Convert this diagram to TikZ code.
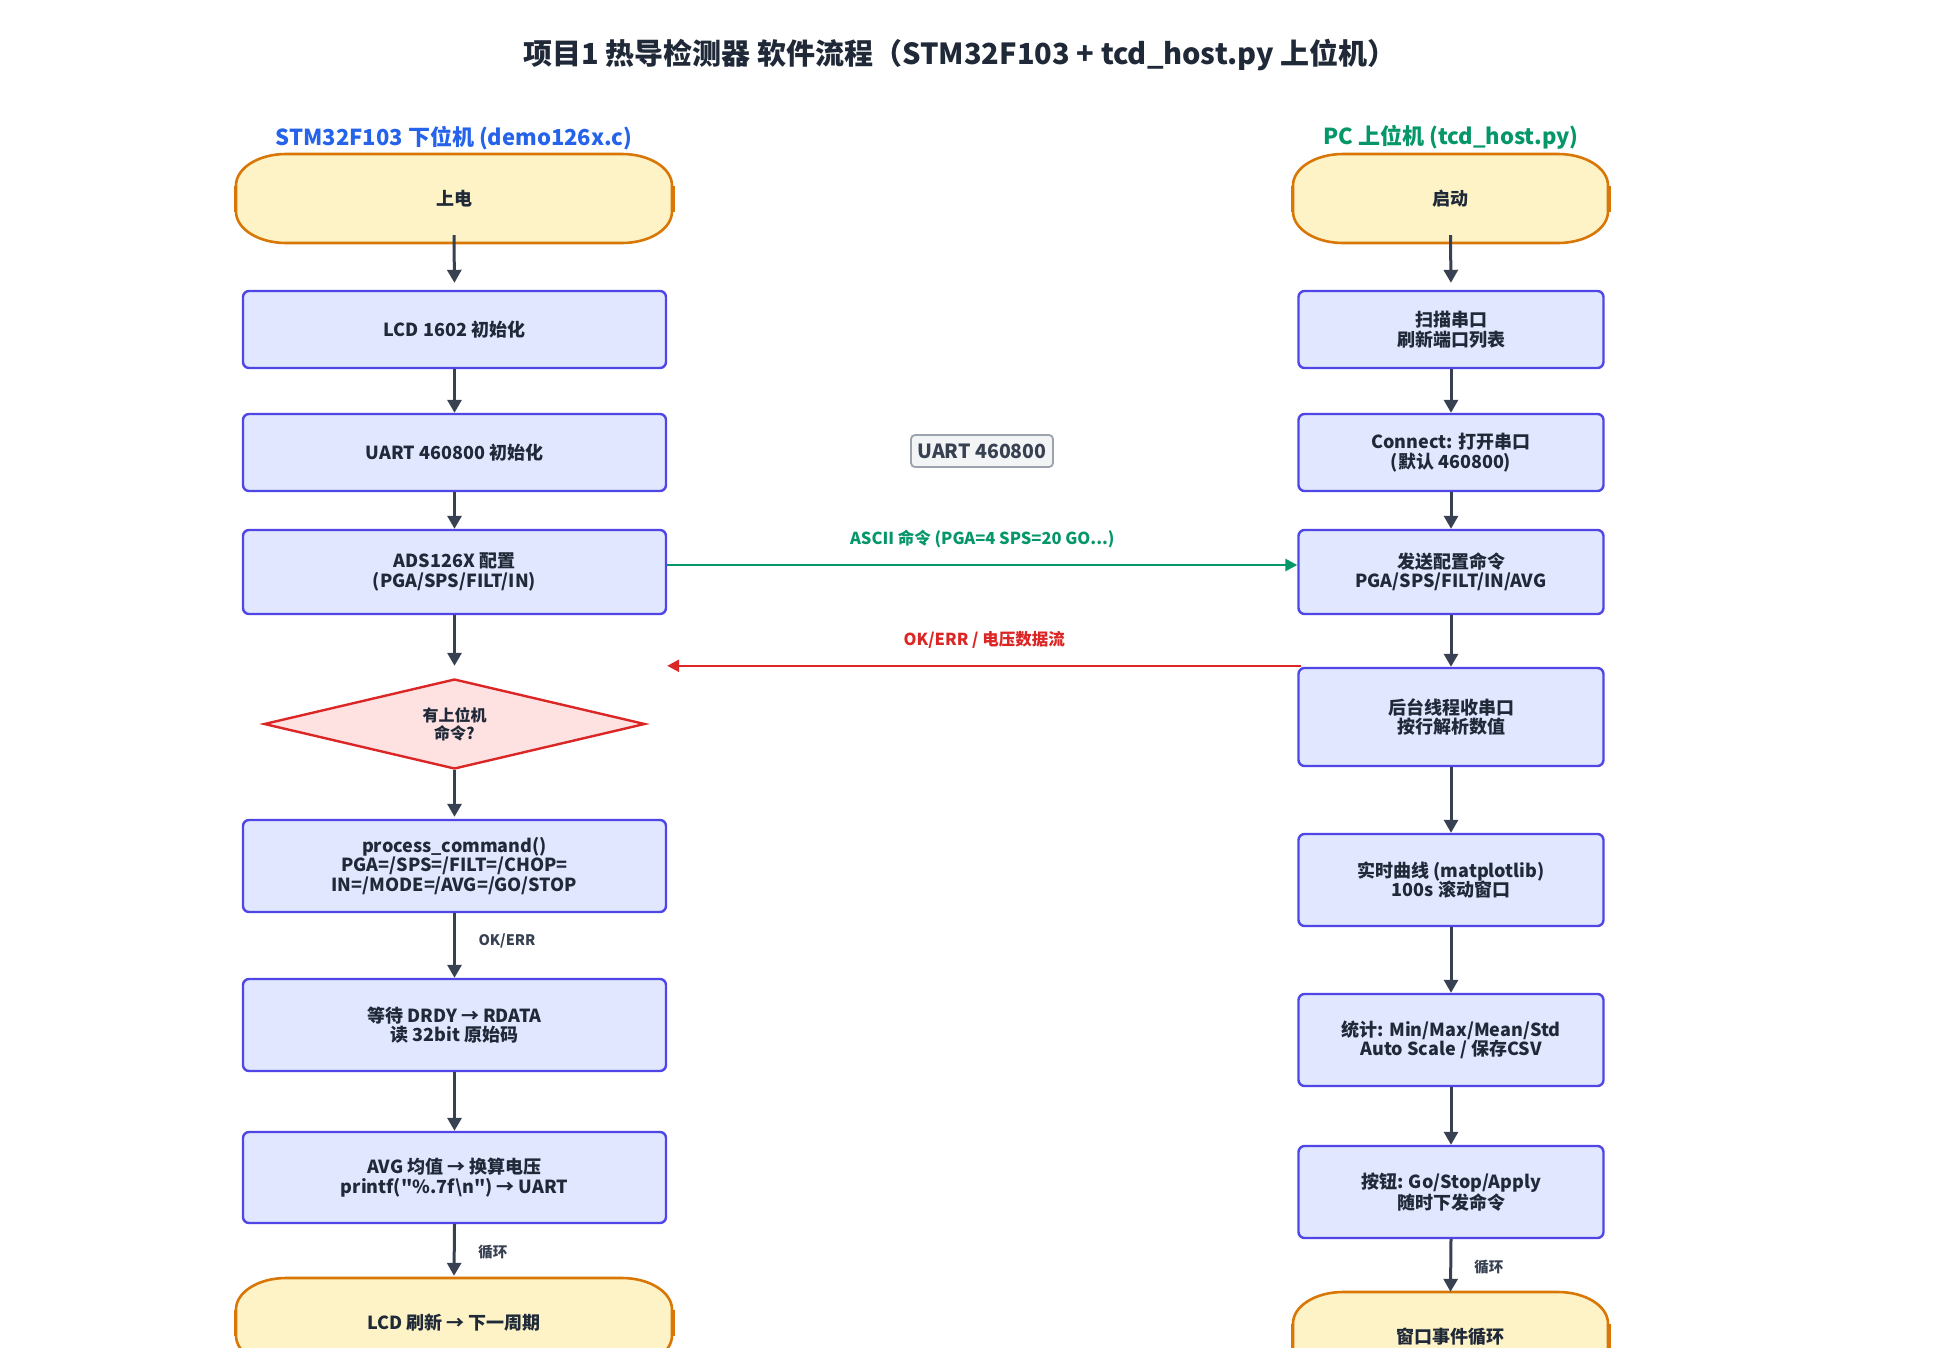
\documentclass[tikz,border=0pt]{standalone}
\usepackage{fontspec}
\setmainfont{Noto Sans CJK SC}
\newfontfamily\plainf{Noto Sans CJK SC}
\newcommand\sq{{\plainf "}}
\usetikzlibrary{arrows.meta,shapes.geometric}

\definecolor{boxfill}{HTML}{E0E7FF}
\definecolor{boxline}{HTML}{4F46E5}
\definecolor{termfill}{HTML}{FEF3C7}
\definecolor{termline}{HTML}{D97706}
\definecolor{diafill}{HTML}{FEE2E2}
\definecolor{dialine}{HTML}{DC2626}
\definecolor{arrc}{HTML}{374151}
\definecolor{txt}{HTML}{1F2937}
\definecolor{grn}{HTML}{059669}
\definecolor{redc}{HTML}{DC2626}
\definecolor{blu}{HTML}{2563EB}
\definecolor{lblfill}{HTML}{F3F4F6}
\definecolor{lblline}{HTML}{9CA3AF}

\newcommand\termnode[6]{%
  \pgfmathsetmacro\tmL{#2-#4/2}%
  \pgfmathsetmacro\tmR{#2+#4/2}%
  \pgfmathsetmacro\tmT{#3-#5/2}%
  \pgfmathsetmacro\tmB{#3+#5/2}%
  \path[termdraw] ({\tmL+50},\tmT) -- ({\tmR-50},\tmT)
     .. controls ({\tmR-22.4},\tmT) and (\tmR,{\tmT+14.1}) .. (\tmR,{\tmT+31.5})
     -- (\tmR,{\tmB-31.5})
     .. controls (\tmR,{\tmB-14.1}) and ({\tmR-22.4},\tmB) .. ({\tmR-50},\tmB)
     -- ({\tmL+50},\tmB)
     .. controls ({\tmL+22.4},\tmB) and (\tmL,{\tmB-14.1}) .. (\tmL,{\tmB-31.5})
     -- (\tmL,{\tmT+31.5})
     .. controls (\tmL,{\tmT+14.1}) and ({\tmL+22.4},\tmT) .. ({\tmL+50},\tmT) -- cycle;
  \draw[draw=termline, line width=3pt] ({\tmL-1},{#3-13}) -- ({\tmL-1},{#3+13})
       ({\tmR+1},{#3-13}) -- ({\tmR+1},{#3+13});
  \node[termtext, minimum width=#4pt, minimum height=#5pt] (#1) at (#2,#3) {#6};
}

\begin{document}
\begin{tikzpicture}[x=1pt,y=-1pt,
  box/.style={draw=boxline, fill=boxfill, line width=2.4pt, rounded corners=6pt,
    align=center, text=txt, inner sep=0pt, font=\fontsize{18}{19.5}\selectfont\bfseries},
  lbox/.style={box, minimum width=423pt},
  rbox/.style={box, minimum width=305pt},
  flow/.style={draw=arrc, line width=3pt, -{Triangle[length=13pt,width=14pt]}},
  garr/.style={draw=grn, line width=2.6pt, -{Triangle[length=12pt,width=12pt]}},
  rarr/.style={draw=redc, line width=2.6pt, -{Triangle[length=12pt,width=12pt]}},
  termtext/.style={inner sep=0pt, text=txt, font=\fontsize{18}{19.5}\selectfont\bfseries},
  termdraw/.style={draw=termline, fill=termfill, line width=2.6pt},
  small/.style={text=arrc, font=\fontsize{14.5}{16}\selectfont\bfseries, anchor=west, inner sep=0pt},
  glbl/.style={text=grn, font=\fontsize{16.5}{18}\selectfont\bfseries, inner sep=0pt},
  rlbl/.style={text=redc, font=\fontsize{16.5}{18}\selectfont\bfseries, inner sep=0pt},
]
\useasboundingbox (0,0) rectangle (1935,1363);
\fill[white] (0,0) rectangle (1935,1363);
\begin{scope}
\clip (0,0) rectangle (1935,1347);

% titles
\node[text=txt, inner sep=0pt, font=\fontsize{29}{32}\selectfont\bfseries] (title) at (960,55)
  {项目1 热导检测器 软件流程（STM32F103 + tcd\_host.py 上位机）};
\node[text=blu, inner sep=0pt, font=\fontsize{22}{24}\selectfont\bfseries] (hl) at (454,138)
  {STM32F103 下位机 (demo126x.c)};
\node[text=grn, inner sep=0pt, font=\fontsize{22}{24}\selectfont\bfseries] (hr) at (1451,137)
  {PC 上位机 (tcd\_host.py)};

% left column
\termnode{t1l}{454}{198.5}{436}{89}{上电}
\node[lbox, minimum height=77pt] (lcd) at (454.5,329.5) {LCD 1602 初始化};
\node[lbox, minimum height=77pt] (uart) at (454.5,452.5) {UART 460800 初始化};
\node[lbox, minimum height=84pt] (ads) at (454.5,572) {ADS126X 配置\\(PGA/SPS/FILT/IN)};
\node[draw=dialine, fill=diafill, line width=2.4pt, shape=diamond, aspect=4,
  minimum width=381pt, minimum height=90pt, inner sep=0pt, align=center, text=txt,
  font=\fontsize{16}{18}\selectfont\bfseries] (dec) at (454.5,724) {有上位机\\命令?};
\node[lbox, minimum height=92pt] (proc) at (454.5,866)
  {process\_command()\\PGA=/SPS=/FILT=/CHOP=\\IN=/MODE=/AVG=/GO/STOP};
\node[lbox, minimum height=92pt] (wait) at (454.5,1025) {等待 DRDY → RDATA\\读 32bit 原始码};
\node[lbox, minimum height=91pt] (avg) at (454.5,1177.5)
  {AVG 均值 → 换算电压\\printf(\sq\%.7f\textbackslash n\sq) → UART};
\termnode{t2l}{454}{1322.5}{436}{89}{LCD 刷新 → 下一周期}

% right column
\termnode{t1r}{1450.5}{198.5}{315}{89}{启动}
\node[rbox, minimum height=77pt] (scan) at (1451,329.5) {扫描串口\\刷新端口列表};
\node[rbox, minimum height=77pt] (conn) at (1451,452.5) {Connect: 打开串口\\(默认 460800)};
\node[rbox, minimum height=84pt] (send) at (1451,572) {发送配置命令\\PGA/SPS/FILT/IN/AVG};
\node[rbox, minimum height=98pt] (bg) at (1451,717) {后台线程收串口\\按行解析数值};
\node[rbox, minimum height=92pt] (rt) at (1451,880) {实时曲线 (matplotlib)\\100s 滚动窗口};
\node[rbox, minimum height=92pt] (stat) at (1451,1040) {统计: Min/Max/Mean/Std\\Auto Scale / 保存CSV};
\node[rbox, minimum height=92pt] (btn) at (1451,1192) {按钮: Go/Stop/Apply\\随时下发命令};
\termnode{t2r}{1450.5}{1336.5}{315}{89}{窗口事件循环}

% middle label
\node[draw=lblline, fill=lblfill, line width=1.8pt, rounded corners=4pt,
  minimum width=142pt, minimum height=32pt, inner sep=0pt, text=arrc,
  font=\fontsize{19.5}{22}\selectfont\bfseries] (ul) at (982,451) {UART 460800};

% left arrows
\draw[flow, shorten >=7pt] ([yshift=8pt]t1l.south) -- (lcd.north);
\draw[flow] (lcd.south) -- (uart.north);
\draw[flow] (uart.south) -- (ads.north);
\draw[flow, shorten >=12pt] (ads.south) -- (dec.north);
\draw[flow, shorten >=2pt] (dec.south) -- (proc.north);
\draw[flow] (proc.south) -- node[small, xshift=22.5pt, yshift=4.5pt] {OK/ERR} (wait.north);
\draw[flow] (wait.south) -- (avg.north);
\draw[flow, shorten >=2pt] (avg.south) -- node[small, xshift=22.5pt, yshift=-1.5pt] {循环} (t2l.north);

% right arrows
\draw[flow, shorten >=7pt] ([yshift=8pt]t1r.south) -- (scan.north);
\draw[flow] (scan.south) -- (conn.north);
\draw[flow] (conn.south) -- (send.north);
\draw[flow] (send.south) -- (bg.north);
\draw[flow] (bg.south) -- (rt.north);
\draw[flow] (rt.south) -- (stat.north);
\draw[flow] (stat.south) -- (btn.north);
\draw[flow] (btn.south) -- node[small, xshift=22pt, yshift=-2pt] {循环} (t2r.north);

% cross arrows
\draw[garr] ([yshift=7pt]ads.east) -- node[glbl, yshift=26pt] {ASCII 命令 (PGA=4 SPS=20 GO...)} ([yshift=7pt]send.west);
\coordinate (rs) at ([xshift=4pt,yshift=1pt]bg.north west);
\draw[rarr] (rs) -- node[rlbl, yshift=26pt] {OK/ERR / 电压数据流} (ads.east |- rs);
\end{scope}
\end{tikzpicture}
\end{document}
